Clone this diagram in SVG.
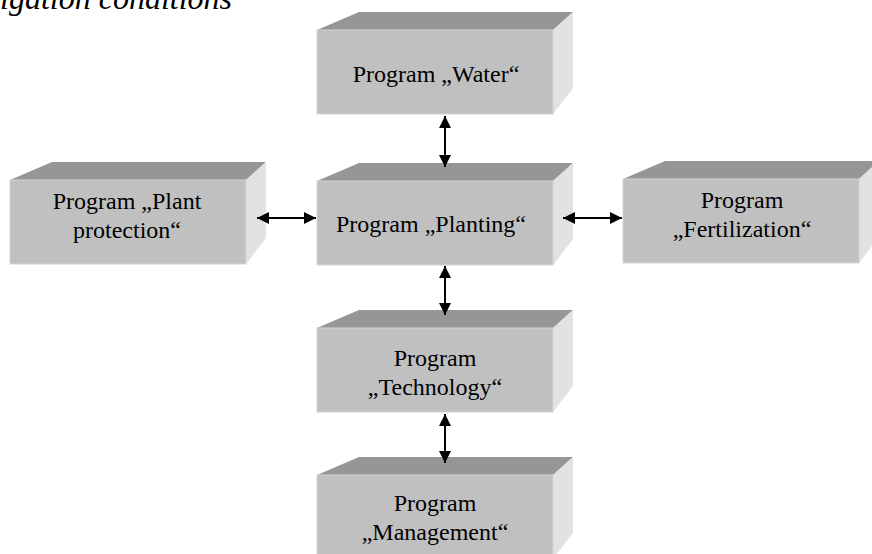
<svg xmlns="http://www.w3.org/2000/svg" xmlns:xlink="http://www.w3.org/1999/xlink" width="872" height="554" viewBox="0 0 872 554">
<style>
.front{fill:#c0c0c0;stroke:#d4d4d4;stroke-width:1}
.top{fill:#969696}
.side{fill:#e2e2e2}
.lbl{font-size:24px;fill:#000;text-anchor:middle}
.title{font-size:32px;font-style:italic;fill:#000}
.conn{stroke:#000;stroke-width:2;fill:none;marker-start:url(#ah);marker-end:url(#ah)}
</style>
<defs>
<marker id="ah" viewBox="0 0 12 12" refX="12" refY="6" markerWidth="12" markerHeight="12" markerUnits="userSpaceOnUse" orient="auto-start-reverse">
<path d="M0,0 L12,6 L0,12 z" fill="#000"/>
</marker>
<g id="box">
<polygon class="top" points="0,0 42,-18 256,-18 236,0"/>
<polygon class="side" points="236,0 256,-18 256,58 236,84"/>
<rect class="front" x="0" y="0" width="236" height="84"/>
</g>
</defs>
<rect width="872" height="554" fill="#fff"/>
<g font-family="'Liberation Serif', 'Times New Roman', 'DejaVu Serif', serif">
<text class="title" x="0" y="9">igation conditions</text>
<g id="water">
<use xlink:href="#box" x="317" y="30"/>
<text class="lbl" x="436" y="82">Program „Water“</text>
</g>
<g id="planting">
<use xlink:href="#box" x="317" y="181"/>
<text class="lbl" x="431" y="232">Program „Planting“</text>
</g>
<g id="plant-protection">
<use xlink:href="#box" x="10" y="180"/>
<text class="lbl" x="127" y="209">Program „Plant</text>
<text class="lbl" x="127" y="238">protection“</text>
</g>
<g id="fertilization">
<use xlink:href="#box" x="623" y="179"/>
<text class="lbl" x="742" y="208">Program</text>
<text class="lbl" x="742" y="237">„Fertilization“</text>
</g>
<g id="technology">
<use xlink:href="#box" x="317" y="328"/>
<text class="lbl" x="435" y="366">Program</text>
<text class="lbl" x="435" y="395">„Technology“</text>
</g>
<g id="management">
<use xlink:href="#box" x="317" y="475"/>
<text class="lbl" x="435" y="511">Program</text>
<text class="lbl" x="435" y="540">„Management“</text>
</g>
</g>
<g id="connectors">
<line class="conn" x1="445" y1="116" x2="445" y2="167"/>
<line class="conn" x1="445" y1="266" x2="445" y2="315"/>
<line class="conn" x1="445" y1="414" x2="445" y2="463"/>
<line class="conn" x1="257" y1="218" x2="316" y2="218"/>
<line class="conn" x1="563" y1="218" x2="622" y2="218"/>
</g>
</svg>
